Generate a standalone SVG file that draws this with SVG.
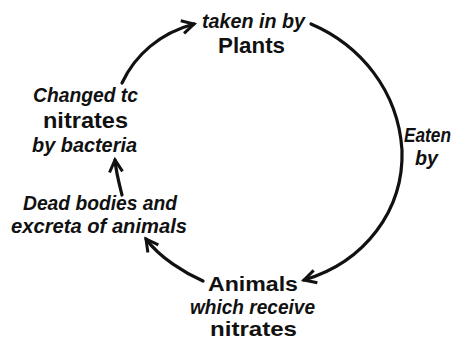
<svg xmlns="http://www.w3.org/2000/svg" width="460" height="341" viewBox="0 0 460 341">
<style>
text{font-family:"Liberation Sans",Arial,sans-serif;font-weight:bold;fill:#111;text-anchor:start}
.i{font-style:italic;font-size:21px}
.b{font-size:22px}
.c{fill:none;stroke:#111;stroke-width:3.2;stroke-linecap:round}
</style>
<defs>
<marker id="ah" markerUnits="userSpaceOnUse" markerWidth="20" markerHeight="20" refX="0" refY="0" viewBox="-14 -10 20 20" orient="auto">
<path d="M-12,-6.5 L0,0 L-12,6.5" fill="none" stroke="#111" stroke-width="3" stroke-linejoin="miter"/>
</marker>
</defs>
<rect width="460" height="341" fill="#fff"/>
<g id="connectors">
<path class="c" d="M122,83 C135,55 160,33 194,24" marker-end="url(#ah)"/>
<path class="c" d="M311,24 C360,45 398,90 402,150 C404,210 365,262 304,280" marker-end="url(#ah)"/>
<path class="c" d="M203,281 C185,273 160,258 146,239" marker-end="url(#ah)"/>
<path class="c" d="M122,195 C119,183 116,172 115,160" marker-end="url(#ah)"/>
</g>
<g id="plants">
<text class="i" x="202" y="28" textLength="103" lengthAdjust="spacingAndGlyphs">taken in by</text>
<text class="b" x="218" y="53" textLength="67" lengthAdjust="spacingAndGlyphs">Plants</text>
</g>
<g id="eaten">
<text class="i" x="404" y="142" textLength="47" lengthAdjust="spacingAndGlyphs" style="font-size:20px">Eaten</text>
<text class="i" x="415" y="165" textLength="23" lengthAdjust="spacingAndGlyphs" style="font-size:20px">by</text>
</g>
<g id="animals">
<text class="b" x="208" y="291" textLength="90" lengthAdjust="spacingAndGlyphs" style="font-size:21px">Animals</text>
<text class="i" x="190" y="314" textLength="125" lengthAdjust="spacingAndGlyphs" style="font-size:20px">which receive</text>
<text class="b" x="210" y="336" textLength="87" lengthAdjust="spacingAndGlyphs" style="font-size:21px">nitrates</text>
</g>
<g id="dead">
<text class="i" x="23" y="210" textLength="154" lengthAdjust="spacingAndGlyphs">Dead bodies and</text>
<text class="i" x="11" y="233" textLength="176" lengthAdjust="spacingAndGlyphs">excreta of animals</text>
</g>
<g id="changed">
<text class="i" x="33" y="102" textLength="105" lengthAdjust="spacingAndGlyphs">Changed tc</text>
<text class="b" x="43" y="128" textLength="85" lengthAdjust="spacingAndGlyphs">nitrates</text>
<text class="i" x="32" y="152" textLength="105" lengthAdjust="spacingAndGlyphs">by bacteria</text>
</g>
</svg>
